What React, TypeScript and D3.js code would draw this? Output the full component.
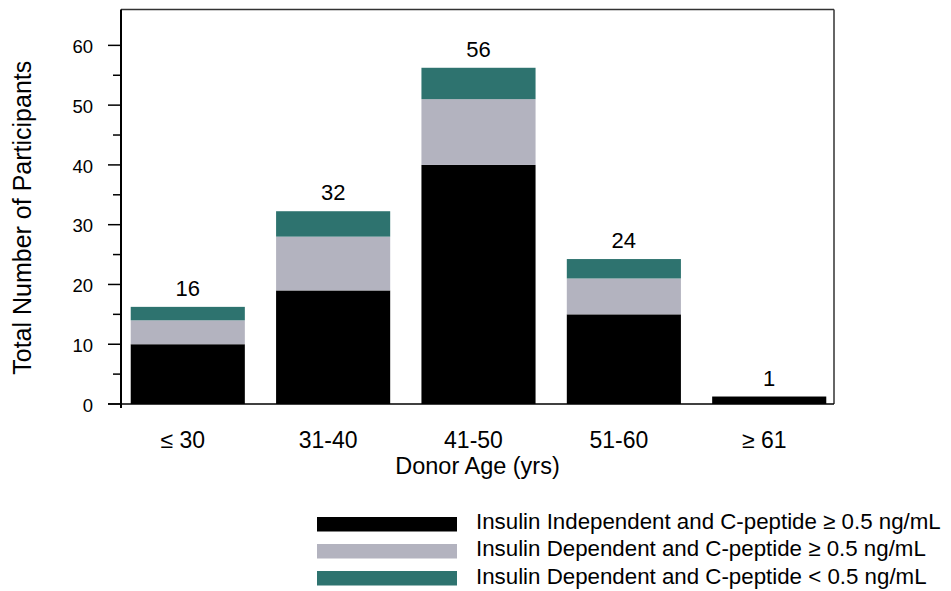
import React from "react";
import * as d3 from "d3";

const categories = ["≤ 30", "31-40", "41-50", "51-60", "≥ 61"];
const insulinIndependent = [10, 19, 40, 15, 1];
const dependentHigh = [4, 9, 11, 6, 0];
const dependentLow = [2, 4, 5, 3, 0];
const seriesKeys = ["independent", "depHigh", "depLow"];
const seriesLabels = [
  "Insulin Independent and C-peptide ≥ 0.5 ng/mL",
  "Insulin Dependent and C-peptide ≥ 0.5 ng/mL",
  "Insulin Dependent and C-peptide < 0.5 ng/mL",
];
const seriesColors = ["#000000", "#b3b3bf", "#2e736f"];
const yMajorTicks = [0, 10, 20, 30, 40, 50, 60];
const yMinorTicks = [5, 15, 25, 35, 45, 55];

const W = 951;
const H = 591;
const FONT = "'Liberation Sans', Arial, Helvetica, sans-serif";

export default function App() {
  const left = 121;
  const right = 834;
  const top = 9.5;
  const bottom = 404;

  const rows = categories.map((c, i) => ({
    cat: c,
    independent: insulinIndependent[i],
    depHigh: dependentHigh[i],
    depLow: dependentLow[i],
  }));
  const stacked = d3.stack<any>().keys(seriesKeys)(rows);
  const totals = rows.map((r) => r.independent + r.depHigh + r.depLow);

  const x = d3
    .scaleBand<string>()
    .domain(categories)
    .range([left + 1, right + 1])
    .paddingInner(0.215)
    .paddingOuter(0.06);
  const y = d3.scaleLinear().domain([0, 66]).range([bottom, top]);

  return (
    <svg
      width={W}
      height={H}
      style={{ position: "absolute", left: 0, top: 0, display: "block", background: "#fff" }}
      fontFamily={FONT}
    >
      {/* bars */}
      {stacked.map((s, si) => (
        <g key={s.key} fill={seriesColors[si]}>
          {s.map((d, i) =>
            d[1] - d[0] > 0 ? (
              <rect
                key={i}
                x={x(categories[i])}
                width={x.bandwidth()}
                y={y(d[1]) - (d[1] === totals[i] ? 1.5 : 0)}
                height={y(d[0]) - y(d[1]) + (d[1] === totals[i] ? 1.5 : 0)}
              />
            ) : null
          )}
        </g>
      ))}
      {/* totals */}
      {totals.map((t, i) => (
        <text
          key={i}
          x={(x(categories[i]) as number) + x.bandwidth() / 2}
          y={y(t) - 12.5}
          textAnchor="middle"
          fontSize={22}
          fill="#000"
        >
          {t}
        </text>
      ))}
      {/* frame */}
      <line x1={left} x2={right} y1={top} y2={top} stroke="#333" strokeWidth={1.5} />
      <line x1={right} x2={right} y1={top} y2={bottom} stroke="#333" strokeWidth={1.5} />
      <line x1={left - 13} x2={right} y1={bottom} y2={bottom} stroke="#000" strokeWidth={1.5} />
      <line x1={left} x2={left} y1={top} y2={bottom + 4} stroke="#000" strokeWidth={2} />
      {/* y ticks */}
      {yMajorTicks.map((t) => (
        <g key={"M" + t}>
          <line x1={left - 13} x2={left} y1={y(t)} y2={y(t)} stroke="#000" strokeWidth={1.5} />
          <text x={93} y={y(t)} dy="0.42em" textAnchor="end" fontSize={18.5} fill="#000">
            {t}
          </text>
        </g>
      ))}
      {yMinorTicks.map((t) => (
        <line key={"m" + t} x1={left - 8} x2={left} y1={y(t)} y2={y(t)} stroke="#000" strokeWidth={1.5} />
      ))}
      {/* x tick labels */}
      {categories.map((c) => (
        <text
          key={c}
          x={(x(c) as number) + x.bandwidth() / 2 - 5}
          y={448}
          textAnchor="middle"
          fontSize={23}
          fill="#000"
        >
          {c}
        </text>
      ))}
      <text x={(left + right) / 2} y={474} textAnchor="middle" fontSize={23.5} fill="#000">
        Donor Age (yrs)
      </text>
      <text
        transform={`translate(31, ${(top + bottom) / 2 + 11}) rotate(-90)`}
        textAnchor="middle"
        fontSize={25}
        fill="#000"
      >
        Total Number of Participants
      </text>
      {/* legend */}
      {seriesLabels.map((lbl, i) => (
        <g key={lbl}>
          <rect x={317} y={517 + i * 27} width={140} height={14.5} fill={seriesColors[i]} />
          <text x={476} y={528.5 + i * 27.5} fontSize={22.3} fill="#000">
            {lbl}
          </text>
        </g>
      ))}
    </svg>
  );
}
